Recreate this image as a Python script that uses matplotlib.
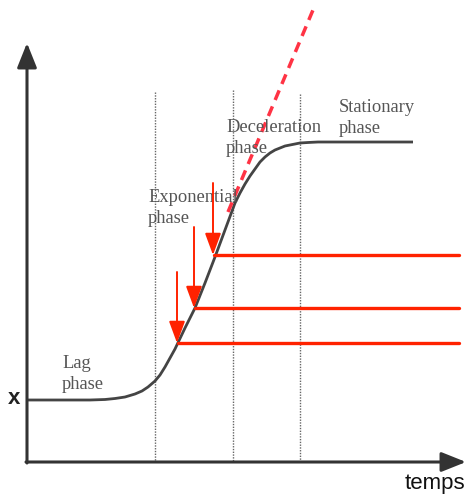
import matplotlib
matplotlib.use("Agg")
import matplotlib.pyplot as plt

# growth curve (pixel units, y down)
curve_x = [27, 60, 90, 105, 115, 125, 135, 142, 148, 155, 160, 165, 170, 175,
           185, 195, 205, 215, 225, 235, 240, 245, 250, 255, 260, 265, 270,
           275, 280, 285, 290, 295, 300, 308, 318, 330, 413]
curve_y = [400, 400, 400, 399.5, 398.5, 397, 394, 391, 387, 381, 375, 367, 358,
           349, 328, 308, 283, 257, 230, 203, 193, 184, 176, 169, 162, 157, 153,
           150, 148, 146, 145, 144, 143, 142.5, 142, 142, 142]

# tangent of the exponential phase
tangent_x = [228, 313]
tangent_y = [212, 10]

# phase borders
border_x = [155, 233, 300]
border_top = [92, 90, 94]

# red thresholds: arrow x, arrow top, level y
mark_x = [178, 195, 214]
mark_top = [272, 227, 183]
mark_y = [343, 308, 255]
line_end = 459

labels = ["Lag\nphase", "Exponential\nphase", "Deceleration\nphase", "Stationary\nphase"]
label_x = [62, 148, 226, 339]
label_y = [374, 208, 138, 118]

AX_COL = "#333333"
RED = "#ff2200"

fig = plt.figure(figsize=(4.72, 4.99), dpi=100)
ax = fig.add_axes((0, 0, 1, 1))
ax.set_xlim(0, 472)
ax.set_ylim(499, 0)
ax.axis("off")

# axes with arrows
ax.annotate("", xy=(27, 43), xytext=(27, 463),
            arrowprops=dict(arrowstyle="-|>,head_length=1.0,head_width=0.4",
                            mutation_scale=15, color=AX_COL, lw=2.2,
                            shrinkA=0, shrinkB=0))
ax.annotate("", xy=(466, 462), xytext=(26, 462),
            arrowprops=dict(arrowstyle="-|>,head_length=1.0,head_width=0.4",
                            mutation_scale=15, color=AX_COL, lw=2.2,
                            shrinkA=0, shrinkB=0))
ax.text(435, 483, "temps", fontsize=16, family="Liberation Sans",
        ha="center", va="center", color="#111111")
ax.text(14, 398, "x", fontsize=16, family="Liberation Sans", fontweight="bold",
        ha="center", va="center", color="#222222")

for bx, bt in zip(border_x, border_top):
    ax.plot([bx, bx], [bt, 462], color="#666666", lw=1.0, ls=(0, (1, 1)))

ax.plot(curve_x, curve_y, color="#444444", lw=2.0, solid_capstyle="butt")
ax.plot(tangent_x, tangent_y, color="#ff3344", lw=2.5, ls=(0, (3, 2)))

for t, lx, ly in zip(labels, label_x, label_y):
    ax.text(lx, ly, t, fontsize=13.3, family="Liberation Serif", color="#555555",
            ha="left", va="center", linespacing=1.3)

for mx, mt, my in zip(mark_x, mark_top, mark_y):
    ax.plot([mx, line_end], [my, my], color=RED, lw=2.4, solid_capstyle="round")
    ax.annotate("", xy=(mx - 1, my), xytext=(mx - 1, mt),
                arrowprops=dict(arrowstyle="-|>,head_length=0.95,head_width=0.35",
                                mutation_scale=14, color=RED, lw=1.4,
                                shrinkA=0, shrinkB=0))

fig.savefig("out.png", dpi=100)
